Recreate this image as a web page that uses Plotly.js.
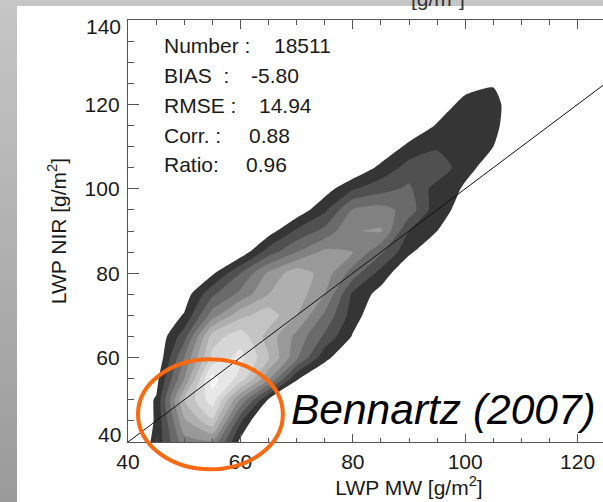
<!DOCTYPE html>
<html><head><meta charset="utf-8">
<script src="https://cdn.plot.ly/plotly-3.0.1.min.js"></script>
<style>
html,body{margin:0;padding:0;width:603px;height:502px;overflow:hidden;}
body{background:linear-gradient(to bottom,#c6c6c6 0%,#b2b2b2 45%,#9a9a9a 100%);position:relative;}
#chart{position:absolute;left:17px;top:6px;width:684px;height:496px;}
#frag{position:absolute;left:411px;top:-17px;line-height:21px;font-size:21px;font-family:"Liberation Sans",Arial,sans-serif;color:#333;z-index:5;white-space:nowrap;}
</style></head><body>
<div id="chart"></div>
<div id="frag">[g/m<sup style="font-size:13px">2</sup>]</div>
<script>
// ---- data ----
const xGrid = [40, 45, 50, 55, 60, 65, 70, 75, 80, 85, 90, 95, 100, 105, 110];
const yGrid = [40, 45, 50, 55, 60, 65, 70, 75, 80, 85, 90, 95, 100, 105, 110, 115, 120, 125, 130];
const zDensity = [
  [0, 1.25, 4.6, 4.8, 0.7, 0, 0, 0, 0, 0, 0, 0, 0, 0, 0],
  [0, 1.1, 5.8, 7.8, 2.2, -1, 0, 0, 0, 0, 0, 0, 0, 0, 0],
  [0, 1.1, 7.0, 9.6, 4.9, 0.9, 0, 0, 0, 0, 0, 0, 0, 0, 0],
  [0, 0.6, 5.0, 10.4, 8.6, 5.2, 1.1, 0, 0, 0, 0, 0, 0, 0, 0],
  [0, 0, 4.0, 8.3, 9.3, 7.1, 4.2, 1.3, 0, 0, 0, 0, 0, 0, 0],
  [0, 0, 2.6, 7.5, 8.6, 6.6, 4.7, 2.8, 0.9, 0, 0, 0, 0, 0, 0],
  [0, 0, 1.1, 4.5, 6.7, 7.6, 6.0, 3.8, 1.5, 0, 0, 0, 0, 0, 0],
  [0, 0, 0.4, 2.8, 4.3, 6.0, 6.6, 5.0, 1.8, 0.6, 0, 0, 0, 0, 0],
  [0, 0, 0, 0.8, 3.0, 5.2, 6.6, 5.6, 3.5, 1.6, 0, 0, 0, 0, 0],
  [0, 0, 0, 0, 0.3, 2.5, 4.0, 5.3, 5.0, 3.2, 1.2, 0, 0, 0, 0],
  [0, 0, 0, 0, 0, 0.5, 2.2, 3.3, 4.95, 5.1, 2.0, 1.0, 0, 0, 0],
  [0, 0, 0, 0, 0, 0, 0.3, 1.8, 4.1, 4.4, 3.6, 1.3, 0.7, 0, 0],
  [0, 0, 0, 0, 0, 0, 0, 0.5, 1.9, 2.6, 3.2, 1.5, 0.9, 0, 0],
  [0, 0, 0, 0, 0, 0, 0, 0, 0, 1.3, 2.4, 2.9, 1.2, 0.7, 0],
  [0, 0, 0, 0, 0, 0, 0, 0, 0, 0, 1.3, 1.8, 1.6, 1.0, 0],
  [0, 0, 0, 0, 0, 0, 0, 0, 0, 0, 0, 1.1, 1.5, 1.3, 0],
  [0, 0, 0, 0, 0, 0, 0, 0, 0, 0, 0, 0.3, 1.4, 1.4, 0],
  [0, 0, 0, 0, 0, 0, 0, 0, 0, 0, 0, 0, 0.5, 0.9, 0],
  [0, 0, 0, 0, 0, 0, 0, 0, 0, 0, 0, 0, 0, 0, 0]
];
const oneToOneX = [40, 140];
const oneToOneY = [40, 140];
const xTicks = [40, 60, 80, 100, 120, 140];
const xTickLabels = ['40', '60', '80', '100', '120', '140'];
const yTicks = [40, 60, 80, 100, 120, 140];
const yTickLabels = ['40', '60', '80', '100', '120', '140'];
const statLabels = ['Number :', 'BIAS\u00a0\u00a0:', 'RMSE :', 'Corr. :', 'Ratio:'];
const statValues = ['18511', '-5.80', '14.94', '0.88', '0.96'];
const bandColors = ['#ffffff', '#353535', '#505050', '#6a6a6a', '#818181', '#999999',
                    '#afafaf', '#c3c3c3', '#d6d6d6', '#e7e7e7', '#f8f8f8'];

// ---- layout geometry ----
const W = 684, H = 496, ml = 111, mr = 10.5, mt = 14, mb = 60.3;
const plotW = W - ml - mr, plotH = H - mt - mb;
function pX(px) { return (px - 17 - ml) / plotW; }
function pY(py) { return 1 - (py - 6 - mt) / plotH; }

const FONT = '"Liberation Sans", Arial, Helvetica, sans-serif';
const colorscale = bandColors.map((c, i) => [i / (bandColors.length - 1), c]);

const traces = [
  {
    type: 'contour', x: xGrid, y: yGrid, z: zDensity,
    autocontour: false,
    contours: {start: 1, end: 10, size: 1, coloring: 'fill', showlines: false},
    colorscale: colorscale, showscale: false,
    line: {width: 0, smoothing: 0.6},
    hoverinfo: 'skip'
  },
  {
    type: 'scatter', mode: 'lines', x: oneToOneX, y: oneToOneY,
    line: {color: '#111111', width: 1}, hoverinfo: 'skip'
  }
];

const statLeftPx = 163;
const statValuePx = [273, 250, 258, 248, 245];
const statRowPy = [45.5, 75, 105, 135, 164.5];
const annotations = [];
statLabels.forEach((t, i) => {
  annotations.push({xref: 'paper', yref: 'paper', x: pX(statLeftPx), y: pY(statRowPy[i]),
    xanchor: 'left', yanchor: 'middle', text: t, showarrow: false, borderpad: 0,
    font: {family: FONT, size: 21, color: '#1a1a1a'}});
  annotations.push({xref: 'paper', yref: 'paper', x: pX(statValuePx[i]), y: pY(statRowPy[i]),
    xanchor: 'left', yanchor: 'middle', text: statValues[i], showarrow: false, borderpad: 0,
    font: {family: FONT, size: 21, color: '#1a1a1a'}});
});
// end labels of the y axis (drawn nudged inward, as in the original)
annotations.push({xref: 'paper', yref: 'paper', x: pX(122), y: pY(26), xanchor: 'right', yanchor: 'middle',
  text: yTickLabels[yTickLabels.length - 1], showarrow: false, borderpad: 0,
  font: {family: FONT, size: 21, color: '#1a1a1a'}});
annotations.push({xref: 'paper', yref: 'paper', x: pX(122), y: pY(434), xanchor: 'right', yanchor: 'middle',
  text: yTickLabels[0], showarrow: false, borderpad: 0,
  font: {family: FONT, size: 21, color: '#1a1a1a'}});
annotations.push({xref: 'paper', yref: 'paper', x: pX(290), y: pY(409), xanchor: 'left', yanchor: 'middle',
  text: 'Bennartz (2007)', showarrow: false, borderpad: 0,
  font: {family: FONT, size: 42.5, color: '#000000', style: 'italic'}});

const layout = {
  width: W, height: H,
  margin: {l: ml, r: mr, t: mt, b: mb, pad: 0},
  paper_bgcolor: '#ffffff', plot_bgcolor: '#ffffff',
  showlegend: false,
  font: {family: FONT, size: 21, color: '#1a1a1a'},
  xaxis: {
    range: [40, 140], autorange: false, automargin: false,
    tickmode: 'array', tickvals: xTicks, ticktext: xTickLabels,
    ticks: 'inside', ticklen: 8.5, tickwidth: 1, tickcolor: '#555',
    minor: {tickmode: 'linear', tick0: 40, dtick: 5, ticks: 'inside', ticklen: 4.5, tickwidth: 1, tickcolor: '#555'},
    showline: true, linecolor: '#555', linewidth: 1.2, mirror: 'allticks',
    showgrid: false, zeroline: false,
    ticklabelstandoff: 1,
    tickfont: {family: FONT, size: 21, color: '#1a1a1a'},
    title: {text: 'LWP MW [g/m<sup>2</sup>]', standoff: 5, font: {family: FONT, size: 21, color: '#1a1a1a'}}
  },
  yaxis: {
    range: [40, 140], autorange: false, automargin: false,
    tickmode: 'array', tickvals: yTicks,
    ticktext: yTickLabels.map((t, i) => (i === 0 || i === yTickLabels.length - 1) ? '' : t),
    ticks: 'inside', ticklen: 11, tickwidth: 1, tickcolor: '#555',
    minor: {tickmode: 'linear', tick0: 40, dtick: 5, ticks: 'inside', ticklen: 5.5, tickwidth: 1, tickcolor: '#555'},
    showline: true, linecolor: '#555', linewidth: 1.2, mirror: 'allticks',
    showgrid: false, zeroline: false,
    ticklabelstandoff: 3,
    tickfont: {family: FONT, size: 21, color: '#1a1a1a'},
    title: {text: 'LWP NIR [g/m<sup>2</sup>]', standoff: 12, font: {family: FONT, size: 21, color: '#1a1a1a'}}
  },
  shapes: [
    {type: 'circle', xref: 'paper', yref: 'paper', layer: 'above',
     x0: pX(138), x1: pX(283), y0: pY(469), y1: pY(359),
     line: {color: '#fa6a12', width: 4}, fillcolor: 'rgba(0,0,0,0)'}
  ],
  annotations: annotations
};

Plotly.newPlot('chart', traces, layout, {displayModeBar: false, staticPlot: true});
</script></body></html>
